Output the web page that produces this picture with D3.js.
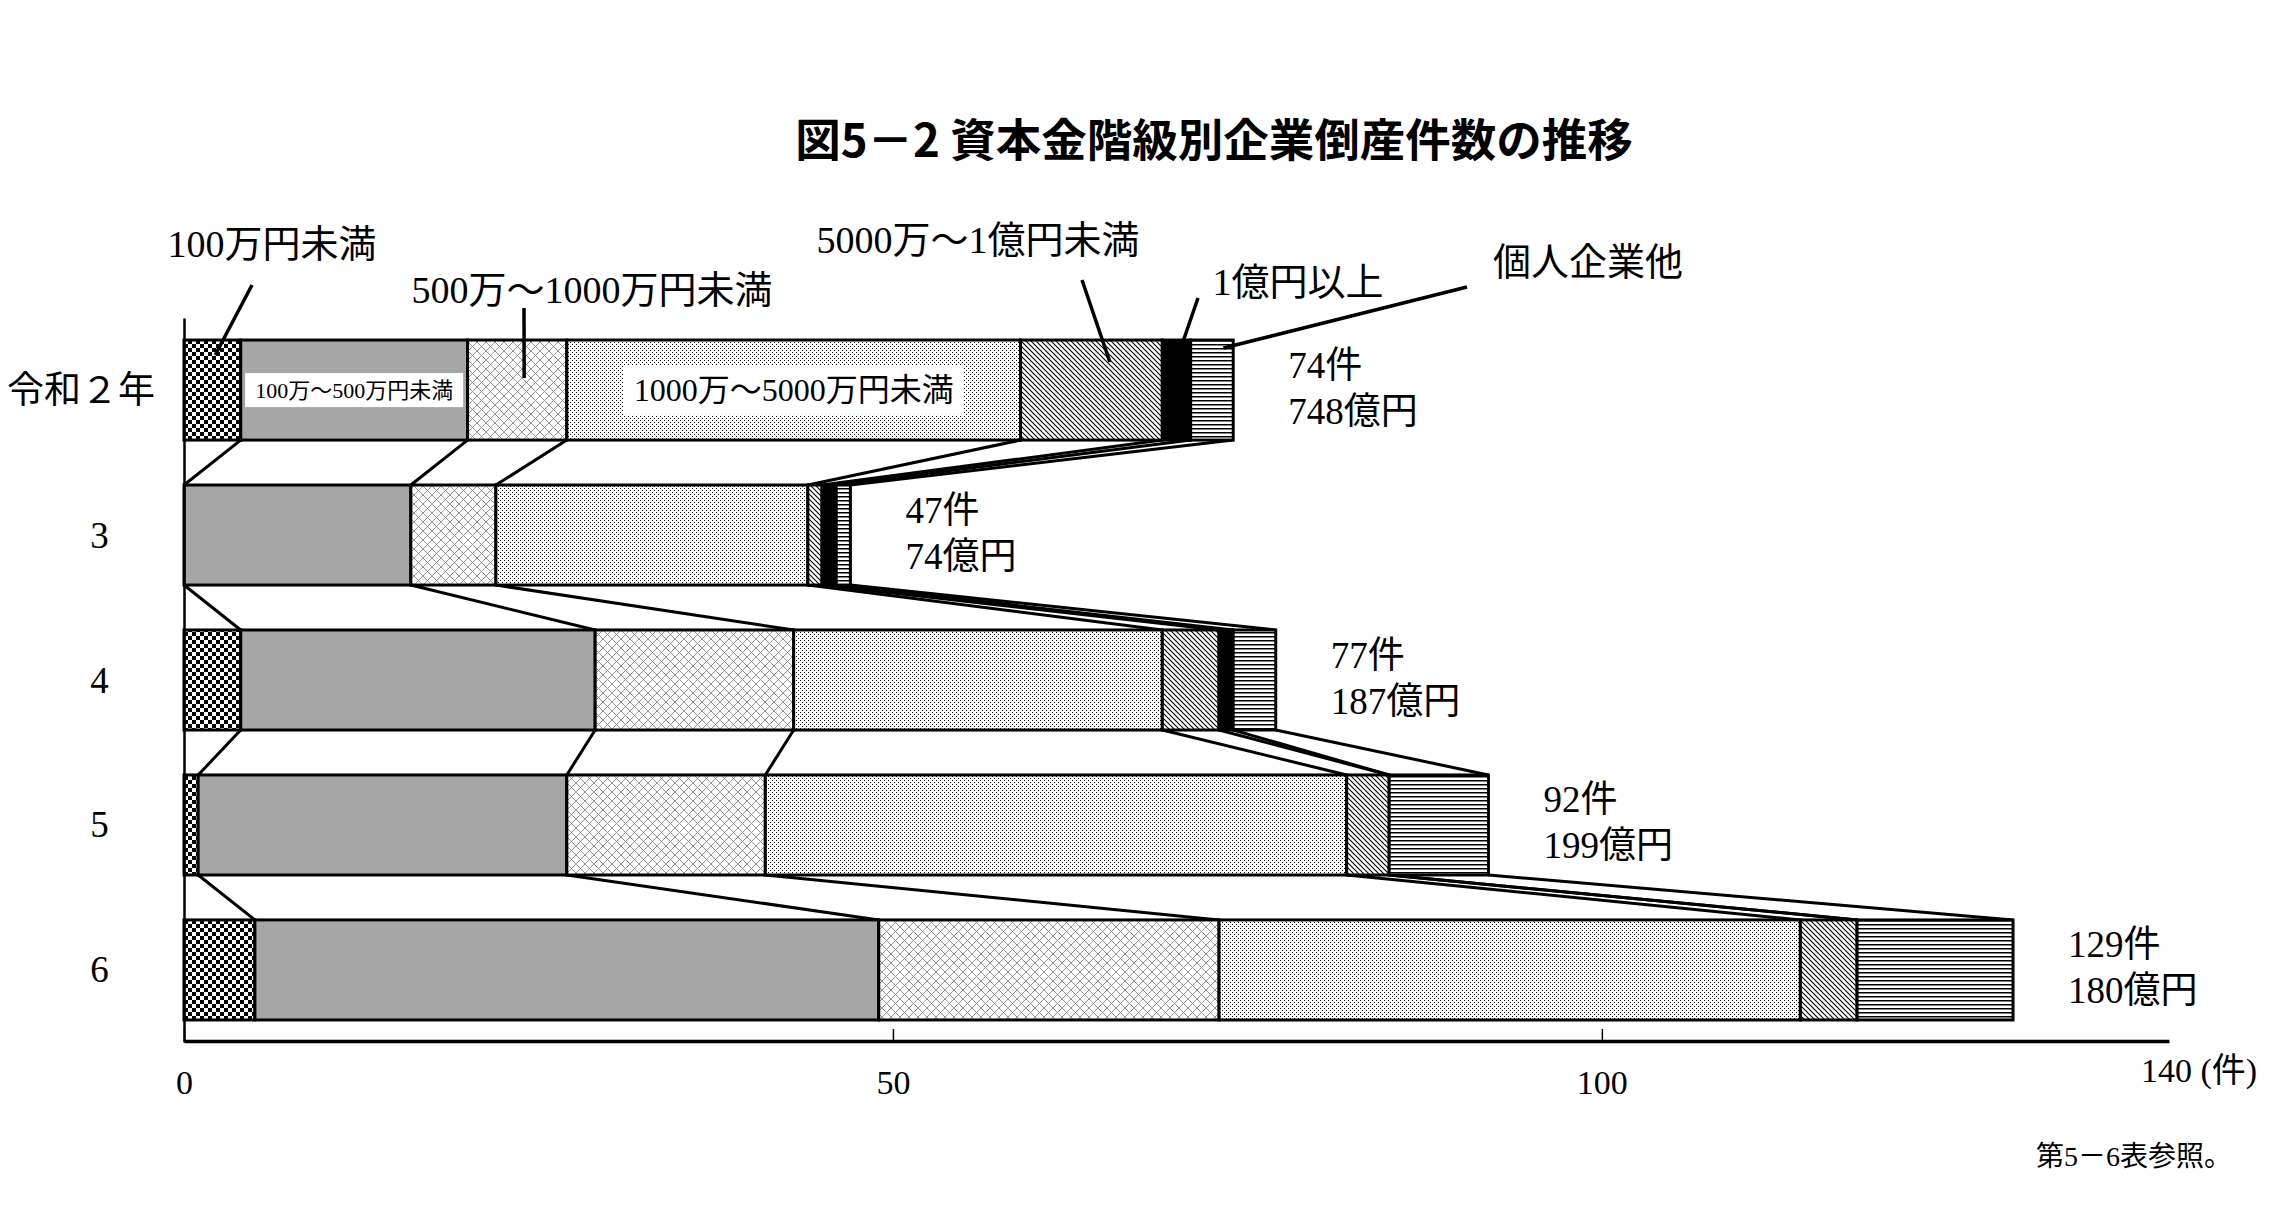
<!DOCTYPE html>
<html>
<head>
<meta charset="utf-8">
<script src="https://cdn.jsdelivr.net/npm/d3@7"></script>
<style>
  body { margin: 0; background: #fff; }
  svg text { font-family: "Liberation Serif", "Noto Sans CJK JP", serif; fill: #000; }
</style>
</head>
<body>
<div id="chart"></div>
<script>
// data (件)
const years = ["令和２年", "3", "4", "5", "6"];
const classNames = ["100万円未満", "100万～500万円未満", "500万～1000万円未満", "1000万～5000万円未満",
                    "5000万～1億円未満", "1億円以上", "個人企業他"];
const under100 = [4, 0, 4, 1, 5];
const from100to500 = [16, 16, 25, 26, 44];
const from500to1000 = [7, 6, 14, 14, 24];
const from1000to5000 = [32, 22, 26, 41, 41];
const from5000to1oku = [10, 1, 4, 3, 4];
const over1oku = [2, 1, 1, 0, 0];
const kojinEtc = [3, 1, 3, 7, 11];
const totalCount = [74, 47, 77, 92, 129];
const totalAmount = [748, 74, 187, 199, 180];
const xTicks = [0, 50, 100];

const chart = {
  specs : {
    width  : 2289,
    height : 1217,
    xRange : [184, 2169],
    yRange : [318, 1042],
    axisY  : 1041
  },
  fills : ["url(#checker)", "#a6a6a6", "url(#lattice)", "url(#dots)", "url(#diag)", "#000", "url(#hlines)"],
  svg : null,
  initialize : () => {
    chart.svg = d3.select("#chart")
      .append("svg")
      .attr("width", chart.specs.width)
      .attr("height", chart.specs.height);
    chart.makePatterns(chart.svg.append("defs"));
    chart.draw();
  },
  makePatterns : defs => {
    const pat = (id, w, h) => {
      const p = defs.append("pattern").attr("id", id).attr("patternUnits", "userSpaceOnUse")
        .attr("width", w).attr("height", h);
      p.append("rect").attr("width", w).attr("height", h).attr("fill", "#fff");
      return p;
    };
    const checker = pat("checker", 8, 8);
    checker.append("rect").attr("width", 4).attr("height", 4).attr("fill", "#000");
    checker.append("rect").attr("x", 4).attr("y", 4).attr("width", 4).attr("height", 4).attr("fill", "#000");

    const lattice = pat("lattice", 9, 9);
    lattice.append("path").attr("d", "M0,0L9,9M9,0L0,9")
      .attr("stroke", "#8a8a8a").attr("stroke-width", 0.9).attr("fill", "none");

    const dots = pat("dots", 4, 4);
    dots.append("rect").attr("width", 1).attr("height", 1).attr("fill", "#000");
    dots.append("rect").attr("x", 2).attr("y", 2).attr("width", 1).attr("height", 1).attr("fill", "#000");

    const diag = pat("diag", 5, 5);
    diag.append("path").attr("d", "M0,0L5,5M-1,4L1,6M4,-1L6,1")
      .attr("stroke", "#000").attr("stroke-width", 1.1).attr("fill", "none");

    const hlines = pat("hlines", 4, 4);
    hlines.append("rect").attr("y", 0).attr("width", 4).attr("height", 1.5).attr("fill", "#000");
  },
  draw : () => {
    const svg = chart.svg;
    const {xRange, yRange, axisY} = chart.specs;
    const series = [under100, from100to500, from500to1000, from1000to5000, from5000to1oku, over1oku, kojinEtc];

    const x = d3.scaleLinear().domain([0, 140]).range(xRange);
    const y = d3.scaleBand().domain(years).range(yRange).paddingInner(0.31).paddingOuter(0.152);
    const bw = y.bandwidth();

    const rows = years.map((yr, i) => {
      const o = {year: yr};
      classNames.forEach((c, k) => o[c] = series[k][i]);
      return o;
    });
    const stacked = d3.stack().keys(classNames)(rows);

    // title
    svg.append("text")
      .attr("x", 1214).attr("y", 137)
      .attr("text-anchor", "middle").attr("dominant-baseline", "central")
      .style("font-family", "'Noto Sans CJK JP', sans-serif")
      .style("font-size", "45.5px").style("font-weight", "bold")
      .text("図5－2 資本金階級別企業倒産件数の推移");

    // lines joining the same boundary in consecutive years
    const links = d3.range(years.length - 1).flatMap(i =>
      stacked.map(layer => ({x1: layer[i][1], x2: layer[i + 1][1], r1: years[i], r2: years[i + 1]})));
    svg.append("g")
      .selectAll("line")
      .data(links)
      .join("line")
        .attr("x1", d => x(d.x1))
        .attr("y1", d => y(d.r1) + bw)
        .attr("x2", d => x(d.x2))
        .attr("y2", d => y(d.r2))
        .attr("stroke", "#000")
        .attr("stroke-width", 3);

    // stacked bars
    svg.append("g")
      .selectAll("g")
      .data(stacked)
      .join("g")
        .attr("fill", (d, k) => chart.fills[k])
      .selectAll("rect")
      .data(d => d.filter(v => v[1] > v[0]))
      .join("rect")
        .attr("x", d => x(d[0]))
        .attr("y", d => y(d.data.year))
        .attr("width", d => x(d[1]) - x(d[0]))
        .attr("height", bw)
        .attr("stroke", "#000")
        .attr("stroke-width", 3);

    // axes
    const xAxis = d3.axisBottom(x).tickValues(xTicks).tickSizeInner(-12).tickSizeOuter(0);
    svg.append("g")
      .attr("transform", "translate(0," + axisY + ")")
      .call(xAxis)
      .call(g => g.select(".domain").attr("stroke-width", 3.5))
      .call(g => g.selectAll(".tick line").attr("stroke-width", 1.5))
      .call(g => g.selectAll(".tick text")
        .attr("y", 41).attr("dy", null)
        .attr("dominant-baseline", "central")
        .attr("font-family", null).style("font-size", "34px"));

    svg.append("text")
      .attr("x", x(140) - 28).attr("y", 1070)
      .attr("dominant-baseline", "central")
      .style("font-size", "34px")
      .text("140 (件)");

    const yAxis = d3.axisLeft(y).tickSize(0).tickSizeOuter(0);
    svg.append("g")
      .attr("transform", "translate(" + xRange[0] + ",0)")
      .call(yAxis)
      .call(g => g.select(".domain").attr("stroke-width", 2.5))
      .call(g => g.selectAll(".tick text")
        .attr("font-family", null)
        .style("font-size", "37px")
        .attr("dominant-baseline", "central")
        .attr("dy", null)
        .attr("text-anchor", (d, i) => i === 0 ? "start" : "middle")
        .attr("x", (d, i) => (i === 0 ? 7 : 7 + 2.5 * 37) - xRange[0]));

    // labels written inside the first bar
    [1, 3].forEach((k, j) => {
      const seg = stacked[k][0];
      const fs = j === 0 ? 22 : 32;
      const cx = x((seg[0] + seg[1]) / 2);
      const cy = y(years[0]) + bw / 2;
      const g = svg.append("g");
      const rect = g.append("rect").attr("fill", "#fff");
      const t = g.append("text")
        .attr("x", cx).attr("y", cy)
        .attr("text-anchor", "middle").attr("dominant-baseline", "central")
        .style("font-size", fs + "px")
        .text(classNames[k]);
      const w = t.node().getComputedTextLength() + 20;
      const h = fs * 1.55;
      rect.attr("x", cx - w / 2).attr("y", cy - h / 2).attr("width", w).attr("height", h);
    });

    // callout labels for the other classes
    const callouts = [
      {k: 0, tx: 272,  ty: 244, sx: 252,  sy: 285, at: 0.55, dy: 15},
      {k: 2, tx: 592,  ty: 290, sx: 524,  sy: 308, at: 0.57, dy: 38},
      {k: 4, tx: 978,  ty: 240, sx: 1082, sy: 280, at: 0.63, dy: 22},
      {k: 5, tx: 1298, ty: 282, sx: 1198, sy: 298, at: 0.75, dy: 0},
      {k: 6, tx: 1588, ty: 262, sx: 1467, sy: 287, at: 0.77, dy: 8}
    ];
    const cg = svg.append("g");
    cg.selectAll("line")
      .data(callouts)
      .join("line")
        .attr("x1", d => d.sx)
        .attr("y1", d => d.sy)
        .attr("x2", d => { const s = stacked[d.k][0]; return x(s[0] + d.at * (s[1] - s[0])); })
        .attr("y2", d => y(years[0]) + d.dy)
        .attr("stroke", "#000")
        .attr("stroke-width", 3.5);
    cg.selectAll("text")
      .data(callouts)
      .join("text")
        .attr("x", d => d.tx)
        .attr("y", d => d.ty)
        .attr("text-anchor", "middle")
        .attr("dominant-baseline", "central")
        .style("font-size", "38px")
        .text(d => classNames[d.k]);

    // totals to the right of each bar
    const tg = svg.append("g")
      .selectAll("g")
      .data(years)
      .join("g")
        .attr("transform", (d, i) => "translate(" + (x(totalCount[i]) + 55) + "," + (y(d) + bw / 2) + ")");
    tg.append("text")
      .attr("y", -25).attr("dominant-baseline", "central")
      .style("font-size", "37px")
      .text((d, i) => totalCount[i] + "件");
    tg.append("text")
      .attr("y", 21).attr("dominant-baseline", "central")
      .style("font-size", "37px")
      .text((d, i) => totalAmount[i] + "億円");

    // source note
    svg.append("text")
      .attr("x", 2036).attr("y", 1156)
      .attr("dominant-baseline", "central")
      .style("font-size", "28px")
      .text("第5－6表参照。");
  }
}

document.addEventListener("DOMContentLoaded", chart.initialize);
</script>
</body>
</html>
